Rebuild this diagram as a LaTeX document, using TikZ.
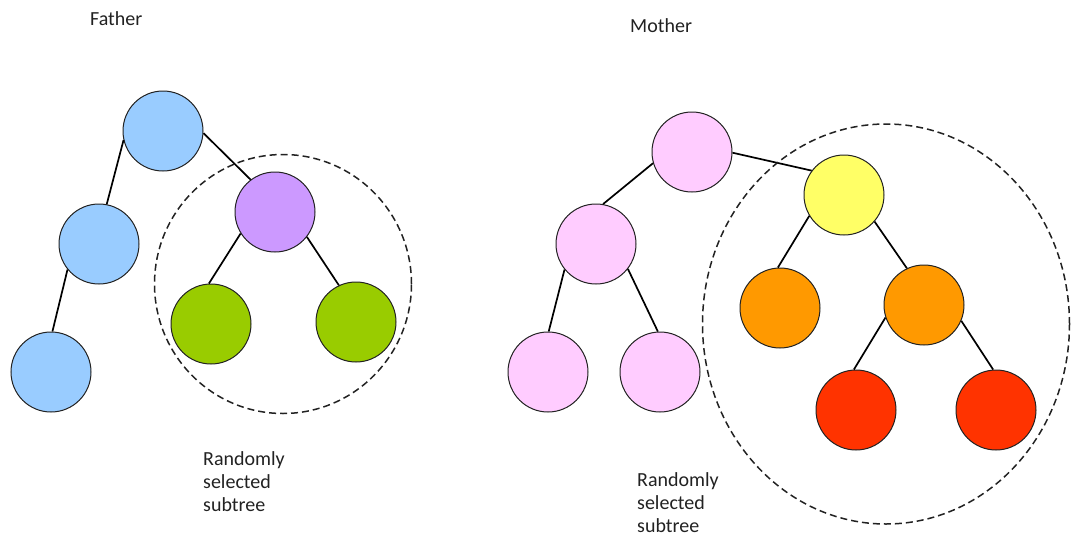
\documentclass[tikz,border=0pt]{standalone}
\usepackage{fontspec}
\setmainfont{Carlito}
\usetikzlibrary{shapes.geometric}
\definecolor{fblue}{HTML}{99CCFF}
\definecolor{fpurple}{HTML}{CC99FF}
\definecolor{fgreen}{HTML}{99CC00}
\definecolor{mpink}{HTML}{FFCCFF}
\definecolor{myellow}{HTML}{FFFF66}
\definecolor{morange}{HTML}{FF9900}
\definecolor{mred}{HTML}{FF3300}
\definecolor{ink}{HTML}{222222}
\begin{document}
\begin{tikzpicture}[x=1pt,y=-1pt,
  treenode/.style={circle,draw=ink,line width=1pt,minimum size=80pt,inner sep=0pt},
  link/.style={draw=black,line width=1.7pt},
  subtree/.style={ellipse,draw=ink,line width=1.5pt,dash pattern=on 7pt off 4pt,inner sep=0pt},
  caption/.style={font=\fontsize{20}{23}\selectfont,text=ink,inner sep=0pt,anchor=base west,align=left}]
\useasboundingbox (0,0) rectangle (1071,541);

% Father tree
\node[treenode,fill=fblue]   (fr)  at (163,131) {};
\node[treenode,fill=fblue]   (fl)  at (99,244) {};
\node[treenode,fill=fblue]   (fll) at (51,372) {};
\node[treenode,fill=fpurple] (fp)  at (275,212) {};
\node[treenode,fill=fgreen]  (fgl) at (211,324) {};
\node[treenode,fill=fgreen]  (fgr) at (356,322) {};

\draw[link] (fr.193) -- (fl.79);
\draw[link] (fl.219) -- (fll.88);
\draw[link] (fr.357) -- (fp.127);
\draw[link] (fp.212) -- (fgl.93);
\draw[link] (fp.322) -- (fgr.115);

\node[subtree,minimum width=257pt,minimum height=259pt] (fsel) at (283,284) {};

% Mother tree
\node[treenode,fill=mpink]    (mr)  at (692,152) {};
\node[treenode,fill=mpink]    (ml)  at (596,244) {};
\node[treenode,fill=mpink]    (mll) at (548,372) {};
\node[treenode,fill=mpink]    (mlr) at (660,372) {};
\node[treenode,fill=myellow]  (my)  at (844,195) {};
\node[treenode,fill=morange]  (mol) at (780,308) {};
\node[treenode,fill=morange]  (mor) at (924,305) {};
\node[treenode,fill=mred]     (mrl) at (856,410) {};
\node[treenode,fill=mred]     (mrr) at (996,410) {};

\draw[link] (mr.196) -- (ml.80);
\draw[link] (ml.219) -- (mll.89);
\draw[link] (ml.322) -- (mlr.93);
\draw[link] (mr.359) -- (my.143);
\draw[link] (my.211) -- (mol.93);
\draw[link] (my.319) -- (mor.115);
\draw[link] (mor.198) -- (mrl.93);
\draw[link] (mor.337) -- (mrr.94);

\node[subtree,minimum width=367pt,minimum height=400pt] (msel) at (886,324) {};

% Labels (multi-line captions are anchored at the baseline of their last line)
\node[caption] (ftitle) at (90,25) {Father};
\node[caption] (mtitle) at (630,32) {Mother};
\node[caption] (fcap) at (203,511) {Randomly\\selected\\subtree};
\node[caption] (mcap) at (637,532) {Randomly\\selected\\subtree};
\end{tikzpicture}
\end{document}
